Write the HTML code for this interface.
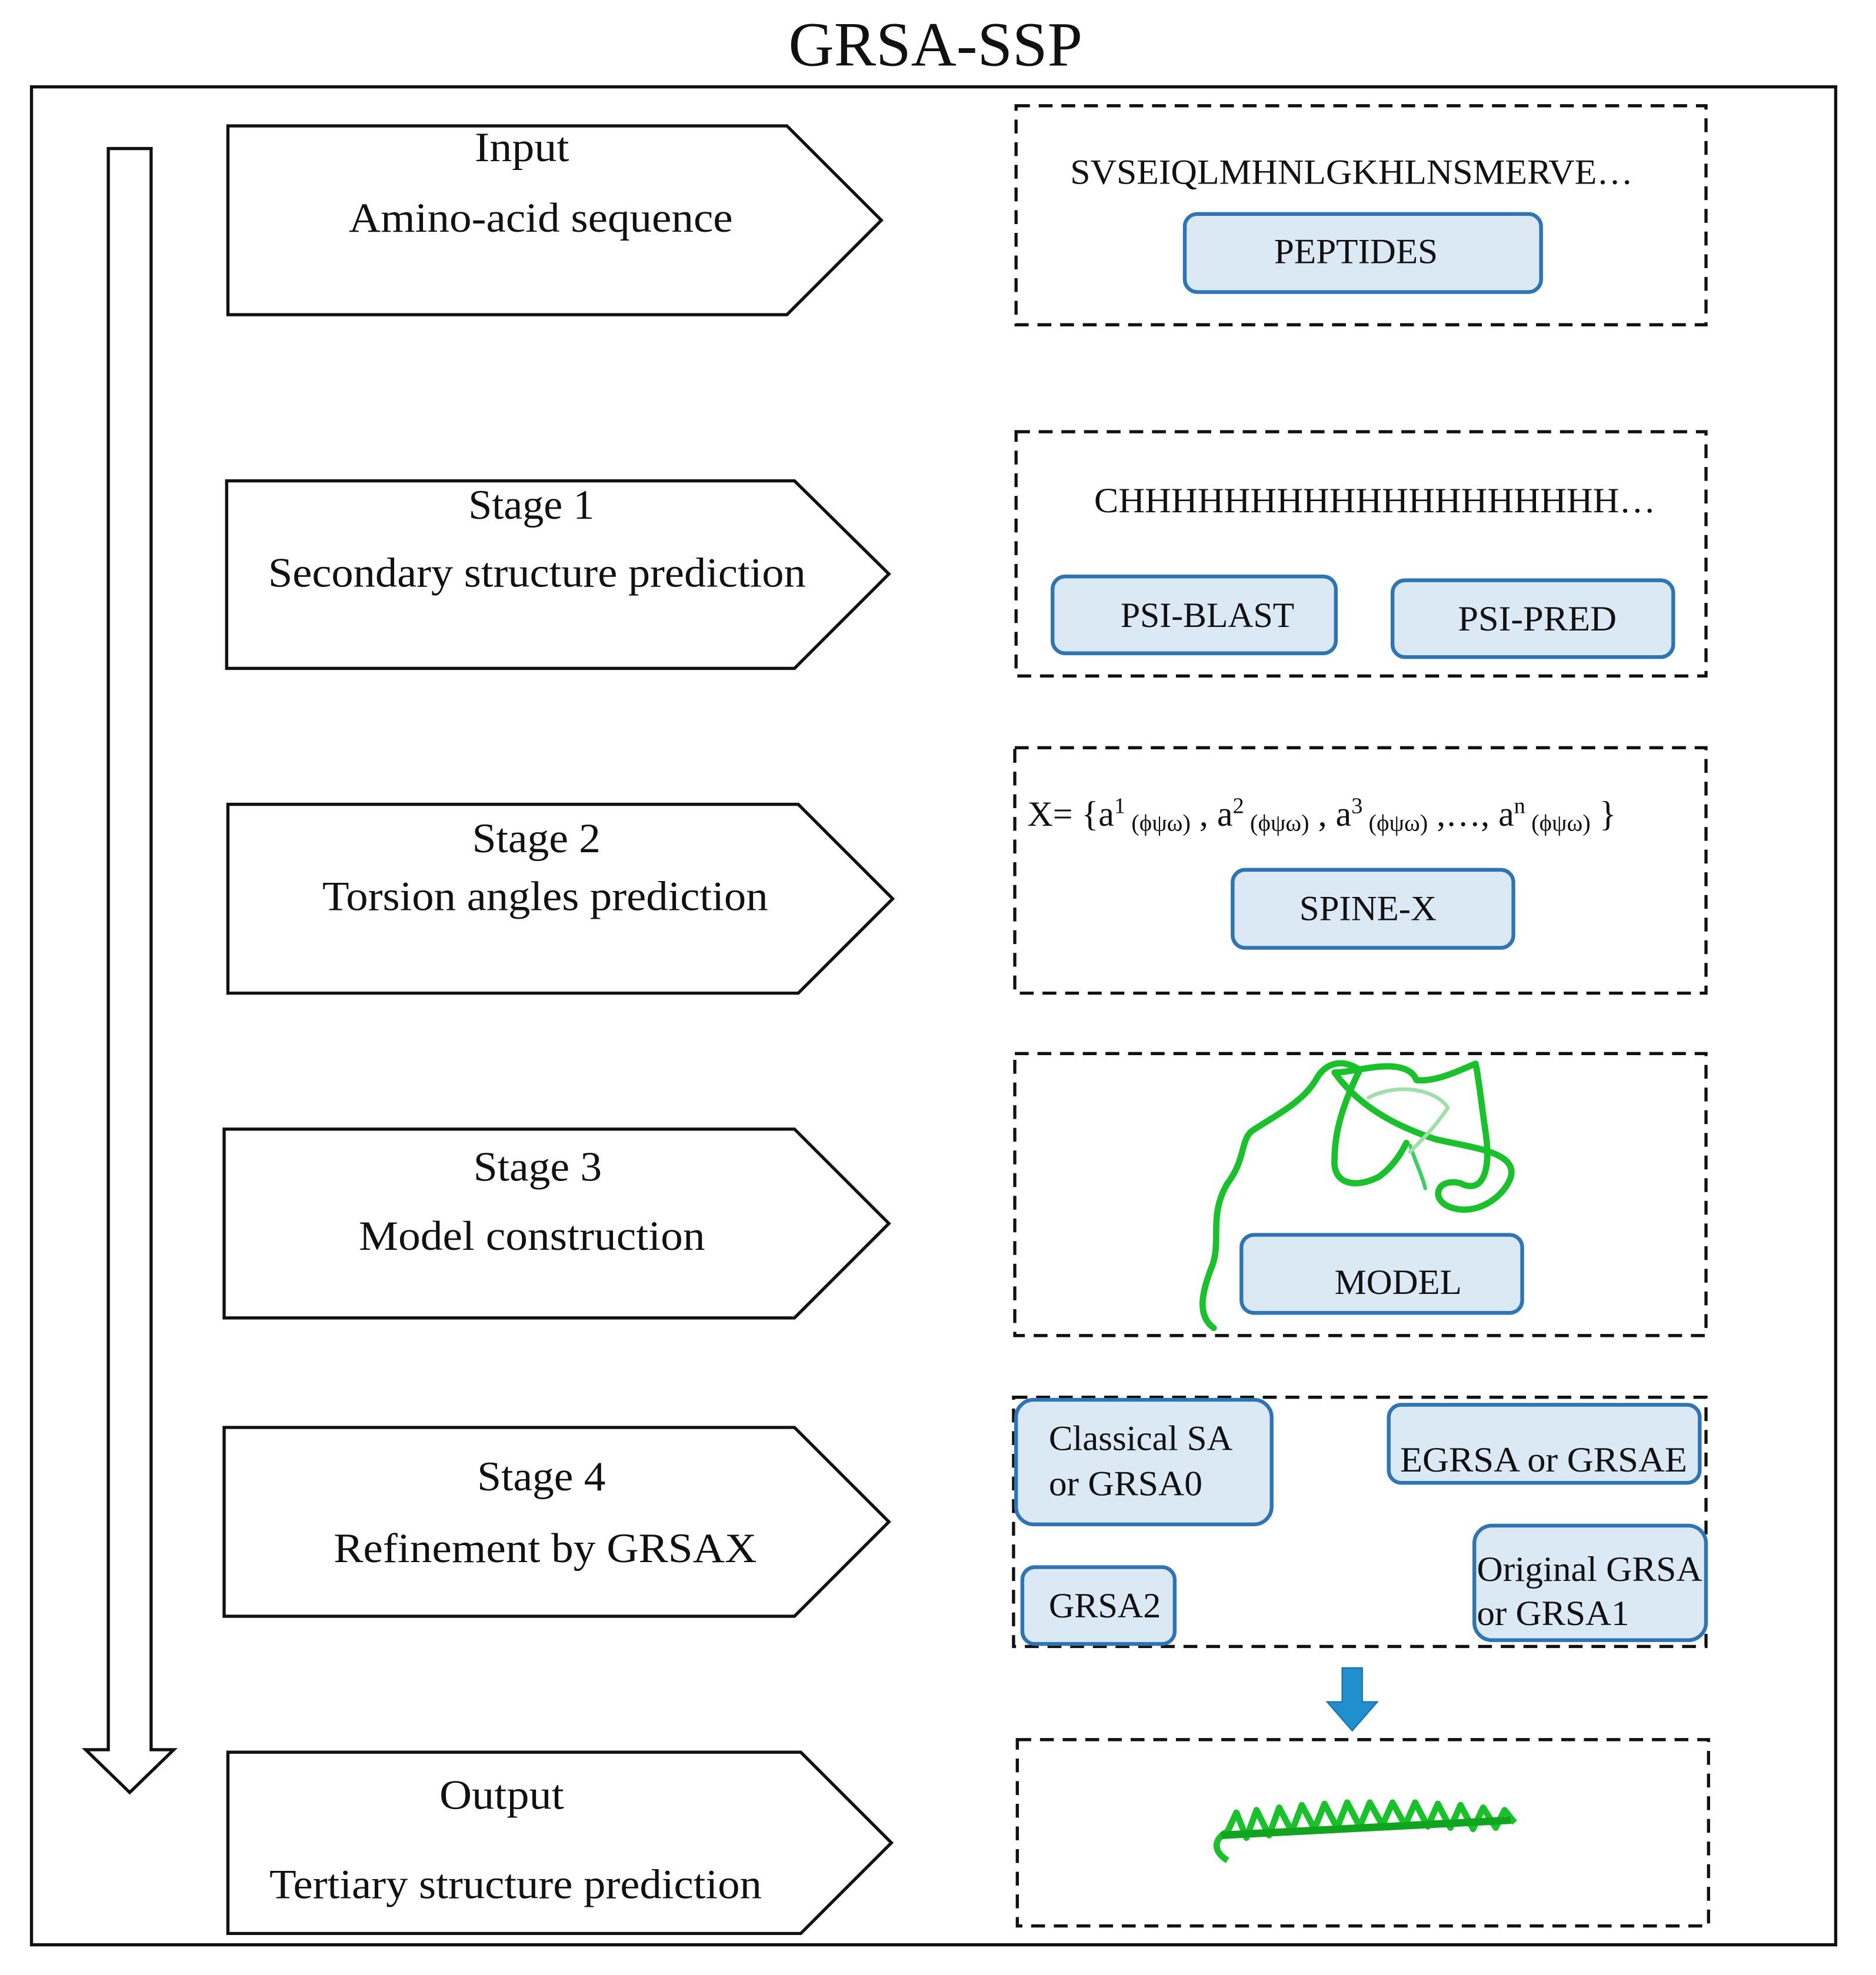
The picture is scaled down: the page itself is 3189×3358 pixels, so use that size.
<!DOCTYPE html>
<html><head><meta charset="utf-8"><style>
html,body{margin:0;padding:0;background:#fff}
svg{display:block}
text{font-family:"Liberation Serif",serif;fill:#111}
</style></head><body>
<svg width="3189" height="3358" viewBox="0 0 1490 1569" xmlns="http://www.w3.org/2000/svg">
<rect width="1490" height="1569" fill="#fff"/>
<text x="743" y="52" font-size="50" text-anchor="middle">GRSA-SSP</text>
<rect x="25" y="69" width="1433" height="1476" fill="none" stroke="#111" stroke-width="2.5"/>
<polygon points="86,118 120,118 120,1390 138,1390 103,1424 68,1390 86,1390" fill="#fff" stroke="#111" stroke-width="2.5"/>
<g fill="#fff" stroke="#111" stroke-width="2.5">
<polygon points="181,100 625,100 700,175 625,250 181,250"/>
<polygon points="180,382 631,382 706,456 631,531 180,531"/>
<polygon points="181,639 634,639 709,714 634,789 181,789"/>
<polygon points="178,897 631,897 706,972 631,1047 178,1047"/>
<polygon points="178,1134 631,1134 706,1209 631,1284 178,1284"/>
<polygon points="181,1392 636,1392 708,1464 636,1536 181,1536"/>
</g>
<g font-size="33" lengthAdjust="spacingAndGlyphs">
<text x="377" y="128" textLength="75" lengthAdjust="spacingAndGlyphs">Input</text>
<text x="277" y="184" textLength="305" lengthAdjust="spacingAndGlyphs">Amino-acid sequence</text>
<text x="372" y="412" textLength="100" lengthAdjust="spacingAndGlyphs">Stage 1</text>
<text x="213" y="466" textLength="427" lengthAdjust="spacingAndGlyphs">Secondary structure prediction</text>
<text x="375" y="677" textLength="102" lengthAdjust="spacingAndGlyphs">Stage 2</text>
<text x="256" y="723" textLength="354" lengthAdjust="spacingAndGlyphs">Torsion angles prediction</text>
<text x="376" y="938" textLength="102" lengthAdjust="spacingAndGlyphs">Stage 3</text>
<text x="285" y="993" textLength="275" lengthAdjust="spacingAndGlyphs">Model construction</text>
<text x="379" y="1184" textLength="102" lengthAdjust="spacingAndGlyphs">Stage 4</text>
<text x="265" y="1241" textLength="336" lengthAdjust="spacingAndGlyphs">Refinement by GRSAX</text>
<text x="349" y="1437" textLength="99" lengthAdjust="spacingAndGlyphs">Output</text>
<text x="214" y="1508" textLength="391" lengthAdjust="spacingAndGlyphs">Tertiary  structure prediction</text>
</g>
<g fill="none" stroke="#111" stroke-width="2.5" stroke-dasharray="11,7">
<rect x="807" y="84" width="548" height="174"/>
<rect x="807" y="343" width="548" height="194"/>
<rect x="806" y="594" width="549" height="195"/>
<rect x="806" y="837" width="549" height="224"/>
<rect x="805" y="1110" width="550" height="198"/>
<rect x="808" y="1382" width="549" height="148"/>
</g>
<text x="850" y="146" font-size="28" textLength="447" lengthAdjust="spacingAndGlyphs">SVSEIQLMHNLGKHLNSMERVE…</text>
<text x="869" y="407" font-size="28" textLength="446" lengthAdjust="spacingAndGlyphs">CHHHHHHHHHHHHHHHHHHH…</text>
<text x="816" y="656" font-size="28">X= {a<tspan font-size="18" dy="-10">1</tspan><tspan font-size="19" dy="14"> (ϕψω)</tspan><tspan dy="-4"> , a</tspan><tspan font-size="18" dy="-10">2</tspan><tspan font-size="19" dy="14"> (ϕψω)</tspan><tspan dy="-4"> , a</tspan><tspan font-size="18" dy="-10">3</tspan><tspan font-size="19" dy="14"> (ϕψω)</tspan><tspan dy="-4"> ,…, a</tspan><tspan font-size="18" dy="-10">n</tspan><tspan font-size="19" dy="14"> (ϕψω)</tspan><tspan dy="-4"> }</tspan></text>
<g fill="#dbe9f5" stroke="#2e75b6" stroke-width="3">
<rect x="941" y="170" width="283" height="62" rx="10"/>
<rect x="836" y="458" width="225" height="61" rx="10"/>
<rect x="1106" y="461" width="223" height="61" rx="10"/>
<rect x="979" y="691" width="223" height="62" rx="10"/>
<rect x="986" y="981" width="223" height="62" rx="10"/>
<rect x="807" y="1112" width="203" height="99" rx="14"/>
<rect x="1103" y="1116" width="247" height="62" rx="10"/>
<rect x="812" y="1245" width="121" height="61" rx="10"/>
<rect x="1171" y="1212" width="184" height="91" rx="14"/>
</g>
<g font-size="28">
<text x="1012" y="209" textLength="130" lengthAdjust="spacingAndGlyphs">PEPTIDES</text>
<text x="890" y="498" textLength="138" lengthAdjust="spacingAndGlyphs">PSI-BLAST</text>
<text x="1158" y="501" textLength="126" lengthAdjust="spacingAndGlyphs">PSI-PRED</text>
<text x="1032" y="731" textLength="109" lengthAdjust="spacingAndGlyphs">SPINE-X</text>
<text x="1060" y="1028" textLength="101" lengthAdjust="spacingAndGlyphs">MODEL</text>
<text x="833" y="1152" textLength="146" lengthAdjust="spacingAndGlyphs">Classical SA</text>
<text x="833" y="1188" textLength="122" lengthAdjust="spacingAndGlyphs">or GRSA0</text>
<text x="1112" y="1169" textLength="228" lengthAdjust="spacingAndGlyphs">EGRSA  or GRSAE</text>
<text x="833" y="1285" textLength="89" lengthAdjust="spacingAndGlyphs">GRSA2</text>
<text x="1173" y="1256" textLength="179" lengthAdjust="spacingAndGlyphs">Original GRSA</text>
<text x="1173" y="1291" textLength="121" lengthAdjust="spacingAndGlyphs">or GRSA1</text>
</g>
<polygon points="1066,1325 1082,1325 1082,1352 1094,1352 1074,1375 1054,1352 1066,1352" fill="#1f8fd0" stroke="#1670a8" stroke-width="1"/>
<g fill="none" stroke="#19c22a" stroke-width="5" stroke-linecap="round" stroke-linejoin="round">
<path d="M964,1055 C950,1045 955,1025 963,1005 C970,985 960,965 975,940 C990,920 985,905 995,898 C1015,885 1035,875 1045,858 C1052,845 1065,840 1080,850 C1070,870 1060,895 1060,920 C1058,940 1075,945 1095,935 C1105,928 1112,918 1117,908"/>
<path d="M1060,852 C1080,880 1110,895 1140,905 C1170,912 1205,915 1200,935 C1195,950 1175,965 1155,960 C1135,955 1140,935 1160,940 C1175,948 1185,935 1180,900 C1177,880 1175,860 1172,845 C1160,850 1140,860 1125,858 C1122,850 1112,845 1090,848 C1075,850 1068,852 1060,852"/>
<path d="M1120,910 C1125,925 1130,935 1132,944" stroke="#3ad060" stroke-width="3"/>
<path d="M1087,872 C1110,860 1140,865 1150,880 C1140,895 1130,905 1120,915" stroke="#9fe0a8" stroke-width="3"/>
</g>
<g fill="none" stroke="#19c22a" stroke-width="5" stroke-linejoin="round">
<path d="M975,1478 C962,1470 965,1460 975,1455 L982,1440 L990,1460 L998,1438 L1008,1458 L1016,1436 L1026,1455 L1034,1434 L1044,1453 L1052,1433 L1062,1452 L1070,1432 L1080,1451 L1088,1432 L1098,1450 L1106,1432 L1116,1450 L1124,1432 L1134,1451 L1142,1433 L1152,1452 L1160,1434 L1170,1453 L1178,1436 L1188,1452 L1195,1438 L1203,1448"/>
<path d="M970,1458 L1200,1446" stroke="#0fa51f" stroke-width="6"/>
</g>
</svg>
</body></html>
